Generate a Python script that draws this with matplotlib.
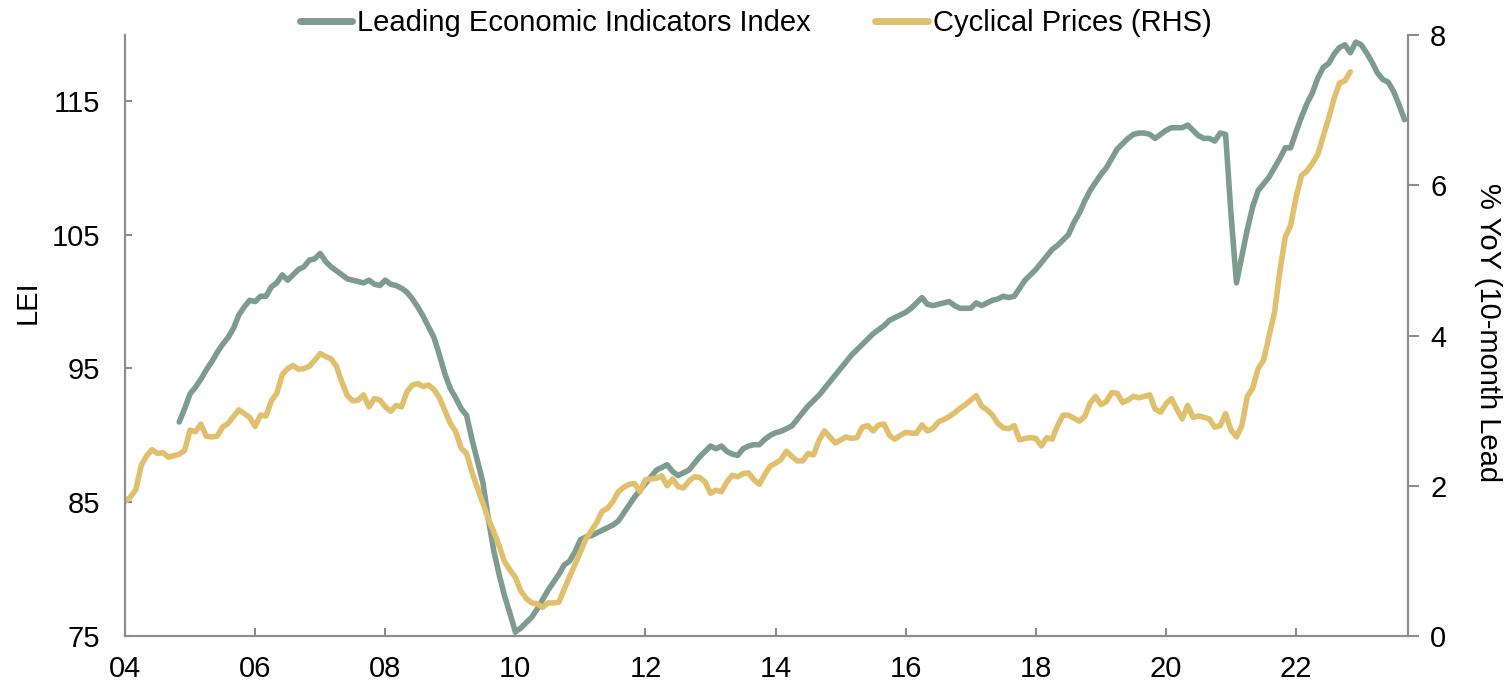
import numpy as np
import matplotlib
matplotlib.use("Agg")
import matplotlib.pyplot as plt

plt.rcParams['font.family'] = ['Liberation Sans', 'DejaVu Sans']

# Monthly series. Cyclical prices: Jan 2004 - Nov 2022 ; LEI: Nov 2004 - Sep 2023
cp_start = 2004.0
cp_values = [
    1.79, 1.85, 1.95, 2.27, 2.40, 2.48, 2.43, 2.44, 2.38, 2.40, 2.42, 2.47,
    2.74, 2.72, 2.82, 2.66, 2.65, 2.66, 2.78, 2.83, 2.92, 3.01, 2.96, 2.91,
    2.79, 2.94, 2.93, 3.13, 3.23, 3.48, 3.56, 3.60, 3.55, 3.56, 3.59, 3.67,
    3.76, 3.72, 3.69, 3.59, 3.38, 3.20, 3.13, 3.14, 3.21, 3.05, 3.16, 3.14,
    3.05, 2.99, 3.07, 3.05, 3.25, 3.34, 3.36, 3.32, 3.34, 3.28, 3.17, 3.00,
    2.83, 2.72, 2.50, 2.43, 2.18, 1.97, 1.77, 1.56, 1.39, 1.20, 0.99, 0.88,
    0.78, 0.60, 0.50, 0.44, 0.43, 0.38, 0.44, 0.44, 0.45, 0.62, 0.79, 0.95,
    1.12, 1.29, 1.40, 1.51, 1.66, 1.70, 1.79, 1.92, 1.98, 2.02, 2.03, 1.92,
    2.08, 2.09, 2.10, 2.13, 2.00, 2.09, 1.99, 1.97, 2.06, 2.12, 2.11, 2.05,
    1.90, 1.94, 1.92, 2.05, 2.14, 2.12, 2.16, 2.17, 2.08, 2.02, 2.15, 2.26,
    2.30, 2.35, 2.46, 2.39, 2.33, 2.33, 2.43, 2.41, 2.60, 2.73, 2.65, 2.57,
    2.61, 2.65, 2.63, 2.64, 2.78, 2.80, 2.73, 2.81, 2.82, 2.67, 2.62, 2.67,
    2.71, 2.70, 2.70, 2.81, 2.73, 2.76, 2.85, 2.88, 2.92, 2.97, 3.03, 3.08,
    3.14, 3.20, 3.06, 3.01, 2.94, 2.83, 2.77, 2.76, 2.80, 2.61, 2.63, 2.64,
    2.63, 2.53, 2.64, 2.62, 2.80, 2.94, 2.94, 2.90, 2.86, 2.92, 3.10, 3.19,
    3.08, 3.12, 3.24, 3.23, 3.11, 3.14, 3.19, 3.17, 3.19, 3.21, 3.02, 2.98,
    3.09, 3.16, 3.02, 2.89, 3.07, 2.91, 2.93, 2.91, 2.89, 2.78, 2.80, 2.96,
    2.74, 2.65, 2.80, 3.19, 3.30, 3.56, 3.67, 3.99, 4.30, 4.85, 5.31, 5.47,
    5.84, 6.13, 6.19, 6.29, 6.41, 6.65, 6.89, 7.15, 7.36, 7.39, 7.51,
]

lei_start = 2004 + 10 / 12
lei_values = [
    91.0, 92.0,
    93.1, 93.6, 94.2, 94.9, 95.5, 96.2, 96.8, 97.3, 98.0, 99.0, 99.6, 100.1,
    100.0, 100.4, 100.4, 101.1, 101.4, 102.0, 101.6, 102.0, 102.4, 102.6, 103.1, 103.2,
    103.6, 103.0, 102.6, 102.3, 102.0, 101.7, 101.6, 101.5, 101.4, 101.6, 101.3, 101.2,
    101.6, 101.3, 101.2, 101.0, 100.7, 100.2, 99.6, 98.9, 98.1, 97.3, 96.0, 94.6,
    93.5, 92.8, 92.0, 91.5, 89.7, 88.1, 86.5, 83.8, 81.4, 79.6, 78.0, 76.7,
    75.3, 75.6, 76.0, 76.4, 77.0, 77.7, 78.4, 79.0, 79.6, 80.3, 80.6, 81.3,
    82.2, 82.4, 82.5, 82.7, 82.9, 83.1, 83.3, 83.6, 84.2, 84.8, 85.4, 85.9,
    86.4, 86.9, 87.4, 87.6, 87.8, 87.3, 87.0, 87.2, 87.4, 87.9, 88.4, 88.8,
    89.2, 89.0, 89.2, 88.8, 88.6, 88.5, 89.0, 89.2, 89.3, 89.3, 89.7, 90.0,
    90.2, 90.3, 90.5, 90.7, 91.2, 91.7, 92.2, 92.6, 93.0, 93.5, 94.0, 94.5,
    95.0, 95.5, 96.0, 96.4, 96.8, 97.2, 97.6, 97.9, 98.2, 98.6, 98.8, 99.0,
    99.2, 99.5, 99.9, 100.3, 99.8, 99.7, 99.8, 99.9, 100.0, 99.7, 99.5, 99.5,
    99.5, 99.9, 99.7, 99.9, 100.1, 100.2, 100.4, 100.3, 100.4, 101.0, 101.6, 102.0,
    102.4, 102.9, 103.4, 103.9, 104.2, 104.6, 105.0, 105.9, 106.6, 107.5, 108.3, 108.9,
    109.5, 110.0, 110.7, 111.4, 111.8, 112.2, 112.5, 112.6, 112.6, 112.5, 112.2, 112.5,
    112.8, 113.0, 113.0, 113.0, 113.2, 112.8, 112.4, 112.2, 112.2, 112.0, 112.6, 112.5,
    106.5, 101.4, 103.4, 105.4, 107.1, 108.3, 108.8, 109.3, 110.0, 110.7, 111.5, 111.5,
    112.7, 113.8, 114.8, 115.6, 116.7, 117.5, 117.8, 118.5, 119.0, 119.2, 118.6, 119.4,
    119.2, 118.6, 117.9, 117.1, 116.6, 116.4, 115.7, 114.7, 113.6,
]

x_ticks = [2004, 2006, 2008, 2010, 2012, 2014, 2016, 2018, 2020, 2022]
x_labels = ['04', '06', '08', '10', '12', '14', '16', '18', '20', '22']
left_ticks = [75, 85, 95, 105, 115]
right_ticks = [0, 2, 4, 6, 8]

GREEN = '#7D9B8F'
YELLOW = '#E0C06C'
AXC = '#8C8C8C'

cp_x = cp_start + np.arange(len(cp_values)) / 12
lei_x = lei_start + np.arange(len(lei_values)) / 12

fig = plt.figure(figsize=(15.11, 6.87), dpi=100)
ax = fig.add_axes([125 / 1511, 1 - 636 / 687, (1408 - 125) / 1511, (636 - 35) / 687])
ax2 = ax.twinx()

l1, = ax.plot(lei_x, lei_values, color=GREEN, lw=4, solid_capstyle='round',
              label='Leading Economic Indicators Index')
l2, = ax2.plot(cp_x, cp_values, color=YELLOW, lw=4, solid_capstyle='round',
               label='Cyclical Prices (RHS)')

ax.set_xlim(2004, 2023.72)
ax.set_ylim(75, 119.93)
ax2.set_ylim(0, 8)

ax.set_xticks(x_ticks)
ax.set_xticklabels(x_labels)
ax.set_yticks(left_ticks)
ax2.set_yticks(right_ticks)

for a in (ax, ax2):
    a.spines['top'].set_visible(False)
    for s in ('left', 'right', 'bottom'):
        a.spines[s].set_color(AXC)
        a.spines[s].set_linewidth(1.5)

ax.tick_params(axis='x', direction='in', length=6, width=1.5, color=AXC,
               labelsize=21, pad=14)
ax.tick_params(axis='y', direction='in', length=5, width=1.5, color=AXC,
               labelsize=21, pad=18)
ax2.tick_params(axis='y', direction='out', length=8, width=1.5, color=AXC,
                labelsize=21, pad=8)

fig.text(28 / 1511, 1 - 302 / 687, 'LEI', rotation=90, fontsize=21,
         ha='center', va='center')
fig.text(1488 / 1511, 1 - 333 / 687, '% YoY (10-month Lead', rotation=270,
         fontsize=21, ha='center', va='center')

leg = fig.legend([l1, l2], [l1.get_label(), l2.get_label()], loc='center',
                 bbox_to_anchor=(0.5, 1 - 23 / 687), ncol=2, frameon=False,
                 fontsize=21, handlelength=1.8, handletextpad=0.17,
                 columnspacing=2.2, borderpad=0)
for h in leg.get_lines():
    h.set_linewidth(5)

fig.savefig('out.png', dpi=100)
